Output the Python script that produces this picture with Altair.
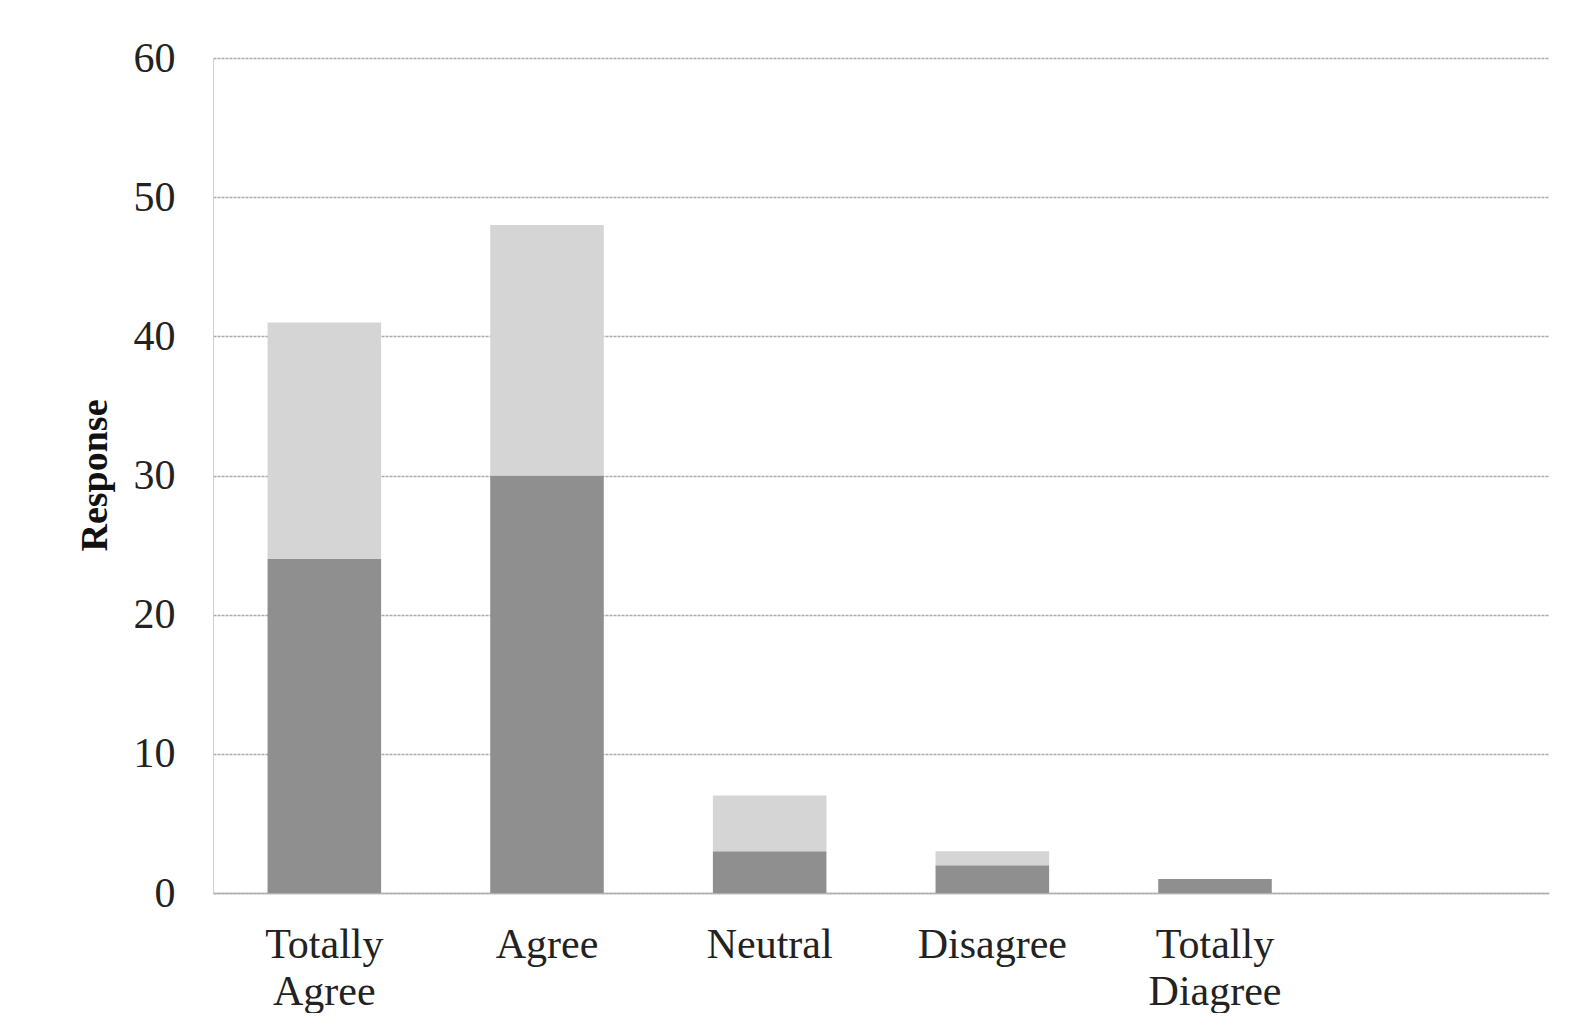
import altair as alt
import pandas as pd

categories = ["Totally Agree", "Agree", "Neutral", "Disagree", "Totally Diagree"]
slot_domain = categories + [" "]
dark_values = [24, 30, 3, 2, 1]
light_values = [17, 18, 4, 1, 0]
series_names = ["Series 1", "Series 2"]
y_ticks = [0, 10, 20, 30, 40, 50, 60]

rows = []
for c, d, l in zip(categories, dark_values, light_values):
    rows.append({"cat": c, "series": series_names[0], "value": d, "ord": 0})
    rows.append({"cat": c, "series": series_names[1], "value": l, "ord": 1})
df = pd.DataFrame(rows)

font = "Liberation Serif"

chart = alt.Chart(df).mark_bar().encode(
    x=alt.X("cat:N",
            scale=alt.Scale(domain=slot_domain, paddingInner=0.49, paddingOuter=0.245),
            axis=alt.Axis(title=None, labelAngle=0, labelFont=font, labelFontSize=42,
                          labelColor="#222222", labelPadding=31, ticks=False,
                          labelLineHeight=47,
                          labelExpr="split(datum.label, ' ')",
                          domainColor="#b0b0b0", domainWidth=1.5, grid=False)),
    y=alt.Y("value:Q", stack="zero",
            scale=alt.Scale(domain=[0, 60], nice=False),
            axis=alt.Axis(title="Response", values=y_ticks, labelFont=font, labelFontSize=42,
                          labelColor="#222222", labelPadding=38, ticks=False,
                          titleFont=font, titleFontSize=38, titleFontWeight="bold",
                          titleColor="#111111", titleX=-118, titleY=417,
                          titleAngle=-90, titleAlign="center", titleBaseline="middle",
                          domainColor="#d0d0d0", domainWidth=1,
                          gridColor="#ababab", gridWidth=1.5, gridDash=[3, 1])),
    color=alt.Color("series:N", scale=alt.Scale(domain=series_names, range=["#8f8f8f", "#d5d5d5"]),
                    legend=None),
    order=alt.Order("ord:Q", sort="ascending"),
).properties(
    width=1336, height=835,
    background="white",
    autosize=alt.AutoSizeParams(type="none"),
    padding={"left": 205, "top": 50, "right": 30, "bottom": 120},
).configure_view(strokeWidth=0, stroke="transparent")

chart.save("out.html", embed_options={"renderer": "svg", "actions": False})
